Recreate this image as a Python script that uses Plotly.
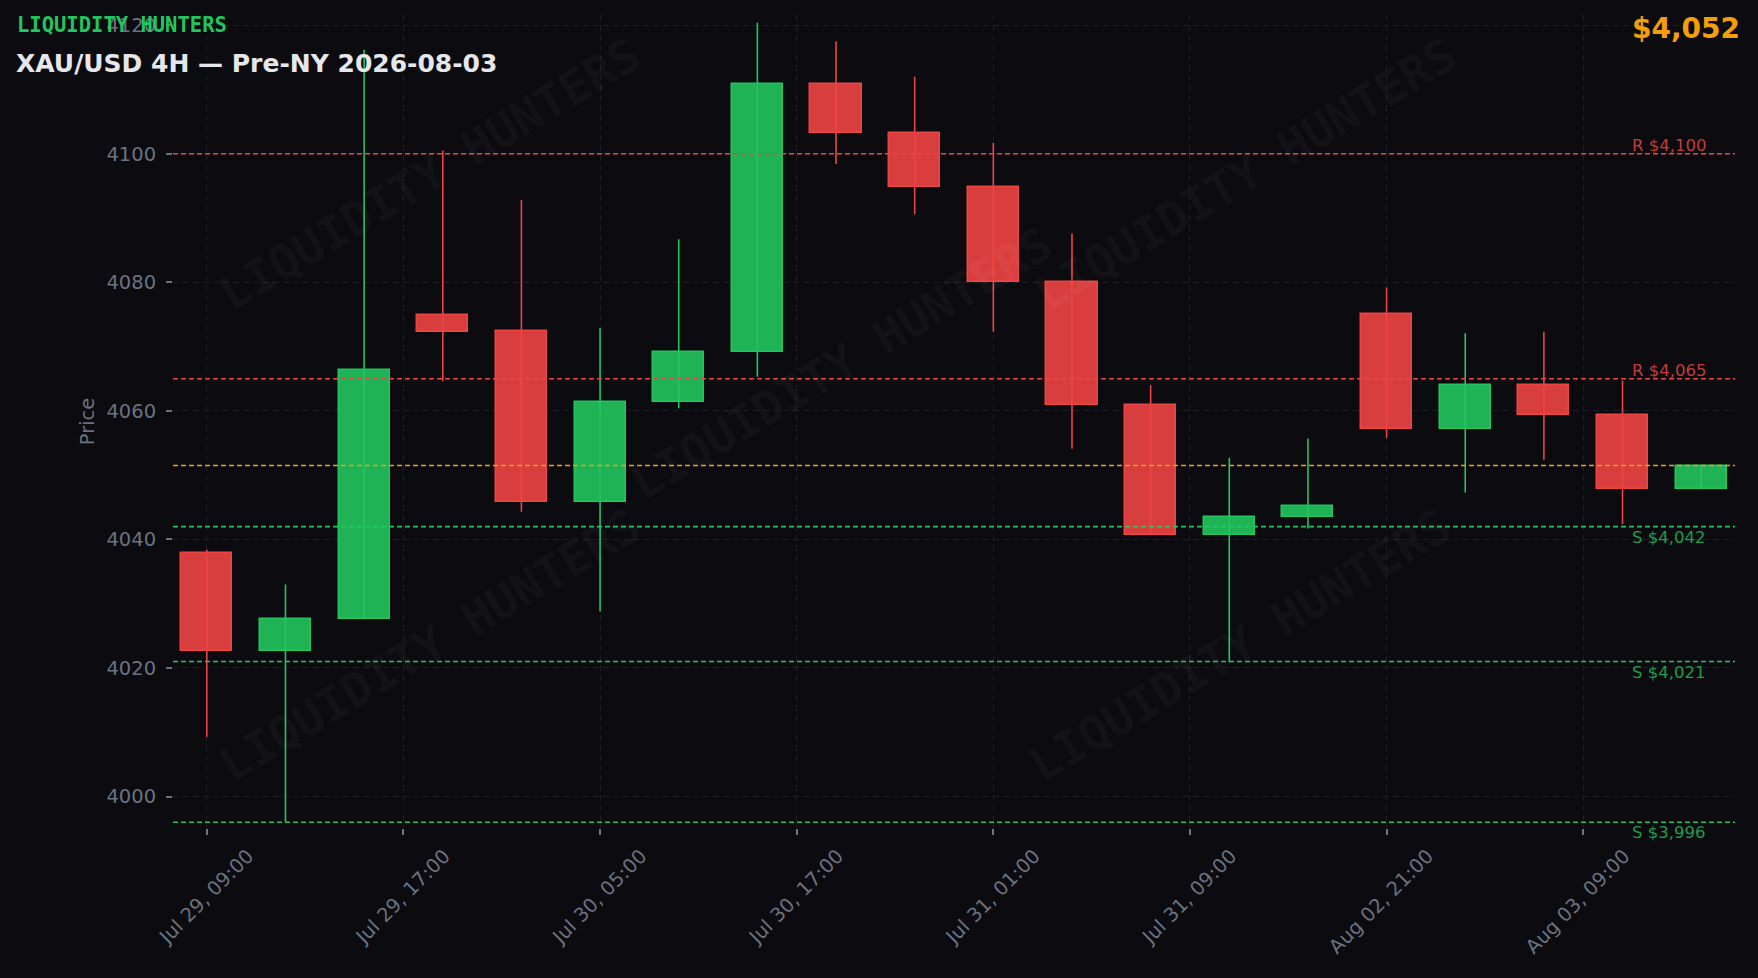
import plotly.graph_objects as go
import numpy as np

# ---------------- data ----------------
times = ["Jul 29, 09:00", "Jul 29, 13:00", "Jul 29, 17:00", "Jul 29, 21:00",
         "Jul 30, 01:00", "Jul 30, 05:00", "Jul 30, 09:00", "Jul 30, 13:00",
         "Jul 30, 17:00", "Jul 30, 21:00", "Jul 31, 01:00", "Jul 31, 05:00",
         "Jul 31, 09:00", "Jul 31, 13:00", "Jul 31, 17:00", "Aug 02, 21:00",
         "Aug 03, 01:00", "Aug 03, 05:00", "Aug 03, 09:00", "Aug 03, 13:00"]
opens  = [4037.9, 4022.7, 4027.6, 4074.9, 4072.4, 4045.9, 4061.4, 4069.1, 4110.8, 4103.3,
          4094.9, 4080.1, 4060.9, 4040.7, 4043.5, 4075.0, 4057.2, 4064.0, 4059.3, 4047.8]
highs  = [4038.4, 4033.0, 4116.2, 4100.5, 4092.8, 4072.9, 4086.7, 4120.4, 4117.5, 4112.0,
          4101.7, 4087.6, 4064.0, 4052.7, 4055.7, 4079.2, 4072.1, 4072.3, 4064.7, 4051.5]
lows   = [4009.3, 3996.0, 4027.6, 4064.6, 4044.3, 4028.8, 4060.4, 4065.3, 4098.4, 4090.6,
          4072.3, 4054.1, 4040.7, 4020.9, 4041.7, 4055.8, 4047.3, 4052.4, 4042.4, 4047.8]
closes = [4022.7, 4027.6, 4066.3, 4072.3, 4045.9, 4061.4, 4069.1, 4110.8, 4103.3, 4094.9,
          4080.1, 4060.9, 4040.7, 4043.5, 4045.2, 4057.2, 4064.0, 4059.3, 4047.8, 4051.5]
resistances = [4100, 4065]
supports = [4042, 4021, 3996]
brand = "LIQUIDITY HUNTERS"
title = "XAU/USD 4H \u2014 Pre-NY 2026-08-03"

# ---------------- style ----------------
W, H = 1758, 978
ML, MR, MT, MB = 173, 23, 15, 150
BG = "#0b0b10"
UP, DN = "#22c55e", "#ef4444"
UP_FILL, DN_FILL = "rgba(34,197,94,0.9)", "rgba(239,68,68,0.9)"
GREY = "#6b7280"
GRID = "#1d1e26"
FONT = "DejaVu Sans"
MONO = "DejaVu Sans Mono"

def px_x(p):
    return (p - ML) / (W - ML - MR)

def px_y(p):
    return (H - MB - p) / (H - MT - MB)

n = len(times)
idx = np.arange(n)
o, h, l, c = map(np.array, (opens, highs, lows, closes))
up = c >= o

fig = go.Figure()

# wicks
for mask, col in ((up, UP), (~up, DN)):
    xs, ys = [], []
    for i in idx[mask]:
        xs += [i, i, None]
        ys += [l[i], h[i], None]
    fig.add_trace(go.Scatter(x=xs, y=ys, mode="lines",
                             line=dict(color=col, width=1.6),
                             hoverinfo="skip", showlegend=False))

# bodies
for mask, col, fill in ((up, UP, UP_FILL), (~up, DN, DN_FILL)):
    fig.add_trace(go.Bar(x=idx[mask], y=np.abs(c - o)[mask],
                         base=np.minimum(o, c)[mask], width=0.65,
                         marker=dict(color=fill, line=dict(color=col, width=1.5)),
                         showlegend=False))

shapes = []
annotations = []

# watermarks
for (wx, wy) in [(429, 174), (841, 364), (1245, 174), (429, 645), (1239, 645)]:
    annotations.append(dict(xref="paper", yref="paper", x=px_x(wx), y=px_y(wy), text=brand,
                            showarrow=False, textangle=-31, xanchor="center", yanchor="middle",
                            font=dict(family=MONO, size=47, color="rgba(255,255,255,0.045)",
                                      weight="bold")))

# level lines
for r in resistances:
    shapes.append(dict(type="line", xref="paper", x0=0, x1=1, yref="y", y0=r, y1=r,
                       line=dict(color=DN, width=1.6, dash="5px,3px"), layer="above"))
    annotations.append(dict(xref="paper", x=px_x(1630), yref="y", y=r, text=f"R ${r:,}",
                            showarrow=False, xanchor="left", yanchor="bottom", yshift=-3,
                            font=dict(family=FONT, size=16.5, color="#c23c3c")))
for s in supports:
    shapes.append(dict(type="line", xref="paper", x0=0, x1=1, yref="y", y0=s, y1=s,
                       line=dict(color=UP, width=1.6, dash="5px,3px"), layer="above"))
    annotations.append(dict(xref="paper", x=px_x(1630), yref="y", y=s, text=f"S ${s:,}",
                            showarrow=False, xanchor="left", yanchor="top", yshift=1,
                            font=dict(family=FONT, size=16.5, color="#1c9e4c")))

last = closes[-1]
shapes.append(dict(type="line", xref="paper", x0=0, x1=1, yref="y", y0=last, y1=last,
                   line=dict(color="#f59e0b", width=1.6, dash="5px,3px"), layer="above"))

# header texts
annotations.append(dict(xref="paper", yref="paper", x=px_x(15), y=px_y(25), text=brand,
                        showarrow=False, xanchor="left", yanchor="middle",
                        font=dict(family=MONO, size=20.5, color=UP, weight="bold")))
annotations.append(dict(xref="paper", yref="paper", x=px_x(14), y=px_y(64), text=title,
                        showarrow=False, xanchor="left", yanchor="middle",
                        font=dict(family=FONT, size=25, color="#e5e7eb", weight="bold")))
annotations.append(dict(xref="paper", yref="paper", x=px_x(1742), y=px_y(29), text=f"${last:,.0f}",
                        showarrow=False, xanchor="right", yanchor="middle",
                        font=dict(family=FONT, size=28, color="#f59e0b", weight="bold")))

tickvals = list(np.arange(0, n, 2.5))
ticktext = [times[int(round(v))] for v in tickvals]

fig.update_layout(
    width=W, height=H, autosize=False,
    margin=dict(l=ML, r=MR, t=MT, b=MB),
    paper_bgcolor=BG, plot_bgcolor=BG,
    barmode="overlay", bargap=0,
    shapes=shapes, annotations=annotations,
    font=dict(family=FONT, color=GREY, size=19.5),
    showlegend=False,
)
fig.update_xaxes(range=[-0.43, 19.43], tickmode="array", tickvals=tickvals, ticktext=ticktext,
                 tickangle=-45, ticks="outside", ticklen=6, tickwidth=1.5, tickcolor=GREY,
                 tickfont=dict(family=FONT, size=19.5, color=GREY),
                 ticklabelshift=41, ticklabelstandoff=2,
                 showgrid=True, gridcolor=GRID, gridwidth=1.2, griddash="6px,4px",
                 zeroline=False, showline=False)
fig.update_yaxes(range=[3995.1, 4121.6], tick0=4000, dtick=20, ticks="outside", ticklen=6,
                 tickwidth=1.5, tickcolor=GREY, ticklabelstandoff=6,
                 tickfont=dict(family=FONT, size=19.5, color=GREY),
                 title=dict(text="Price", font=dict(family=FONT, size=19.5, color=GREY), standoff=6),
                 showgrid=True, gridcolor=GRID, gridwidth=1.2, griddash="6px,4px",
                 zeroline=False, showline=False)

fig.write_html("out.html", config={"displayModeBar": False},
               post_script="document.body.style.margin='0';document.body.style.background='#0b0b10';")
